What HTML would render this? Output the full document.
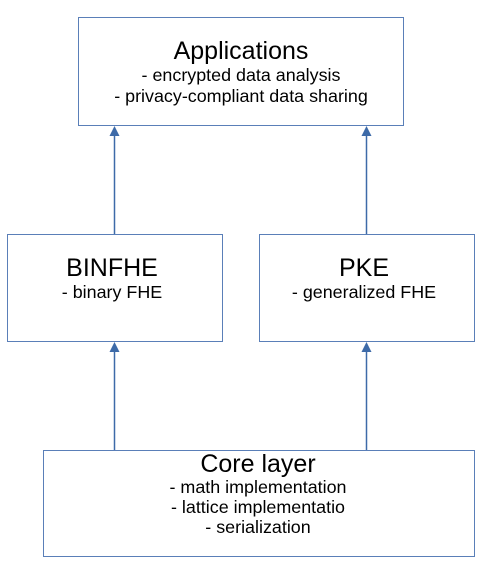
<!DOCTYPE html>
<html><head><style>
html,body{margin:0;padding:0;background:#fff;}
svg{display:block;}
text{font-family:"Liberation Sans",sans-serif;fill:#000;text-anchor:middle;}
</style></head><body>
<svg width="488" height="569" viewBox="0 0 488 569" xmlns="http://www.w3.org/2000/svg">
<g fill="#fff" stroke="#5a7fb8" stroke-width="1">
<rect x="78.5" y="17.5" width="325" height="108"/>
<rect x="7.5" y="234.5" width="215" height="107"/>
<rect x="259.5" y="234.5" width="215" height="107"/>
<rect x="43.5" y="450.5" width="431" height="106"/>
</g>
<g stroke="#3d6aa8" stroke-width="1.5">
<line x1="114.5" y1="234" x2="114.5" y2="134"/>
<line x1="366.5" y1="234" x2="366.5" y2="134"/>
<line x1="114.5" y1="450" x2="114.5" y2="350"/>
<line x1="366.5" y1="450" x2="366.5" y2="350"/>
</g>
<g fill="#3d6aa8">
<polygon points="114.5,126 109.5,136 119.5,136"/>
<polygon points="366.5,126 361.5,136 371.5,136"/>
<polygon points="114.5,342 109.5,352 119.5,352"/>
<polygon points="366.5,342 361.5,352 371.5,352"/>
</g>
<text x="241" y="59" font-size="25">Applications</text>
<text x="241" y="81" font-size="17.9">- encrypted data analysis</text>
<text x="241" y="102" font-size="17.9">- privacy-compliant data sharing</text>
<text x="112" y="276" font-size="25">BINFHE</text>
<text x="112" y="298" font-size="17.9">- binary FHE</text>
<text x="364" y="276" font-size="25">PKE</text>
<text x="364" y="298" font-size="17.9">- generalized FHE</text>
<text x="258" y="472" font-size="25">Core layer</text>
<text x="258" y="493" font-size="17.9">- math implementation</text>
<text x="258" y="513" font-size="17.9">- lattice implementatio</text>
<text x="258" y="533" font-size="17.9">- serialization</text>
</svg>
</body></html>
